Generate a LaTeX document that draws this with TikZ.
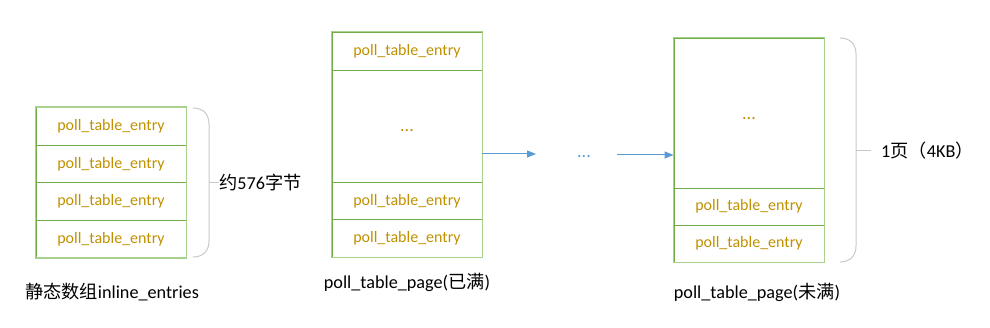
\documentclass[tikz,border=0pt]{standalone}
\usepackage{fontspec}
\setmainfont{Carlito}
\newfontfamily\cjk{Noto Sans CJK SC}
\usetikzlibrary{arrows.meta,calc}
\definecolor{gold}{HTML}{BF9000}
\definecolor{outgreen}{HTML}{A9D18E}
\definecolor{ingreen}{HTML}{70AD47}
\definecolor{arrblue}{HTML}{5B9BD5}
\definecolor{bracegray}{HTML}{C8C8C8}
\begin{document}
\begin{tikzpicture}[x=1pt,y=-1pt,
  entry/.style={draw=ingreen,line width=0.9pt,minimum width=150pt,inner sep=0pt,text=gold,font=\fontsize{16}{19}\selectfont},
  outer/.style={draw=outgreen,line width=1.2pt},
  lbl/.style={font=\fontsize{18.2}{21}\selectfont,text=black,inner sep=0pt},
  dots/.style={font=\fontsize{18}{20}\selectfont,inner sep=0pt},
  link/.style={draw=arrblue,line width=1pt,-{Triangle[length=9pt,width=7pt]}},
  brace/.style={draw=bracegray,line width=1pt}]
\useasboundingbox (0,0) rectangle (990,328);
% left array
\node[entry,minimum height=37.5pt] (a1) at (111,126.25) {poll\_table\_entry};
\node[entry,minimum height=37.5pt] (a2) at (111,163.75) {poll\_table\_entry};
\node[entry,minimum height=37.5pt] (a3) at (111,201.25) {poll\_table\_entry};
\node[entry,minimum height=37.5pt] (a4) at (111,238.75) {poll\_table\_entry};
\draw[outer] (a1.north west) rectangle (a4.south east);
\node[lbl] (la) at (112,292) {{\cjk 静态数组}inline\_entries};
% left brace
\draw[brace] (193,108) .. controls (203,108) and (209,114) .. (209,124) -- (209,241) .. controls (209,251) and (203,257) .. (193,257);
\coordinate (ba) at (209,183);
\node[lbl,anchor=west] (sa) at (219,183) {{\cjk 约}576{\cjk 字节}};
\draw[brace] (ba) -- (sa.west);
% middle page
\node[entry,minimum height=38pt] (b1) at (407,51) {poll\_table\_entry};
\node[entry,minimum height=112pt] (b2) at (407,126) {};
\node[dots,text=gold,anchor=base] (bd) at (407,131.5) {...};
\node[entry,minimum height=37.5pt] (b3) at (407,200.75) {poll\_table\_entry};
\node[entry,minimum height=37.5pt] (b4) at (407,238.25) {poll\_table\_entry};
\draw[outer] (b1.north west) rectangle (b4.south east);
\node[lbl] (lb) at (407,282) {poll\_table\_page({\cjk 已满})};
% arrows
\coordinate (e1) at (536,154);
\node[dots,text=arrblue,anchor=base] (md) at (584,157.5) {...};
\coordinate (s2) at (617,155);
% right page
\node[entry,minimum height=150pt] (c1) at (749,113) {};
\node[dots,text=gold,anchor=base] (cd) at (749,119.5) {...};
\node[entry,minimum height=37pt] (c2) at (749,206.5) {poll\_table\_entry};
\node[entry,minimum height=37pt] (c3) at (749,243.5) {poll\_table\_entry};
\draw[outer] (c1.north west) rectangle (c3.south east);
\node[lbl] (lc) at (757,292) {poll\_table\_page({\cjk 未满})};
\draw[link] (b2.east |- e1) -- (e1);
\draw[link] (s2) -- (s2 -| c1.west);
% right brace
\draw[brace] (840,38) .. controls (850,38) and (856,44) .. (856,54) -- (856,246) .. controls (856,256) and (850,262) .. (840,262);
\coordinate (bc) at (856,151);
\node[lbl,anchor=west] (sc) at (881,151) {1{\cjk 页（}4KB{\cjk ）}};
\draw[brace] (bc) -- (871,151);
\end{tikzpicture}
\end{document}
